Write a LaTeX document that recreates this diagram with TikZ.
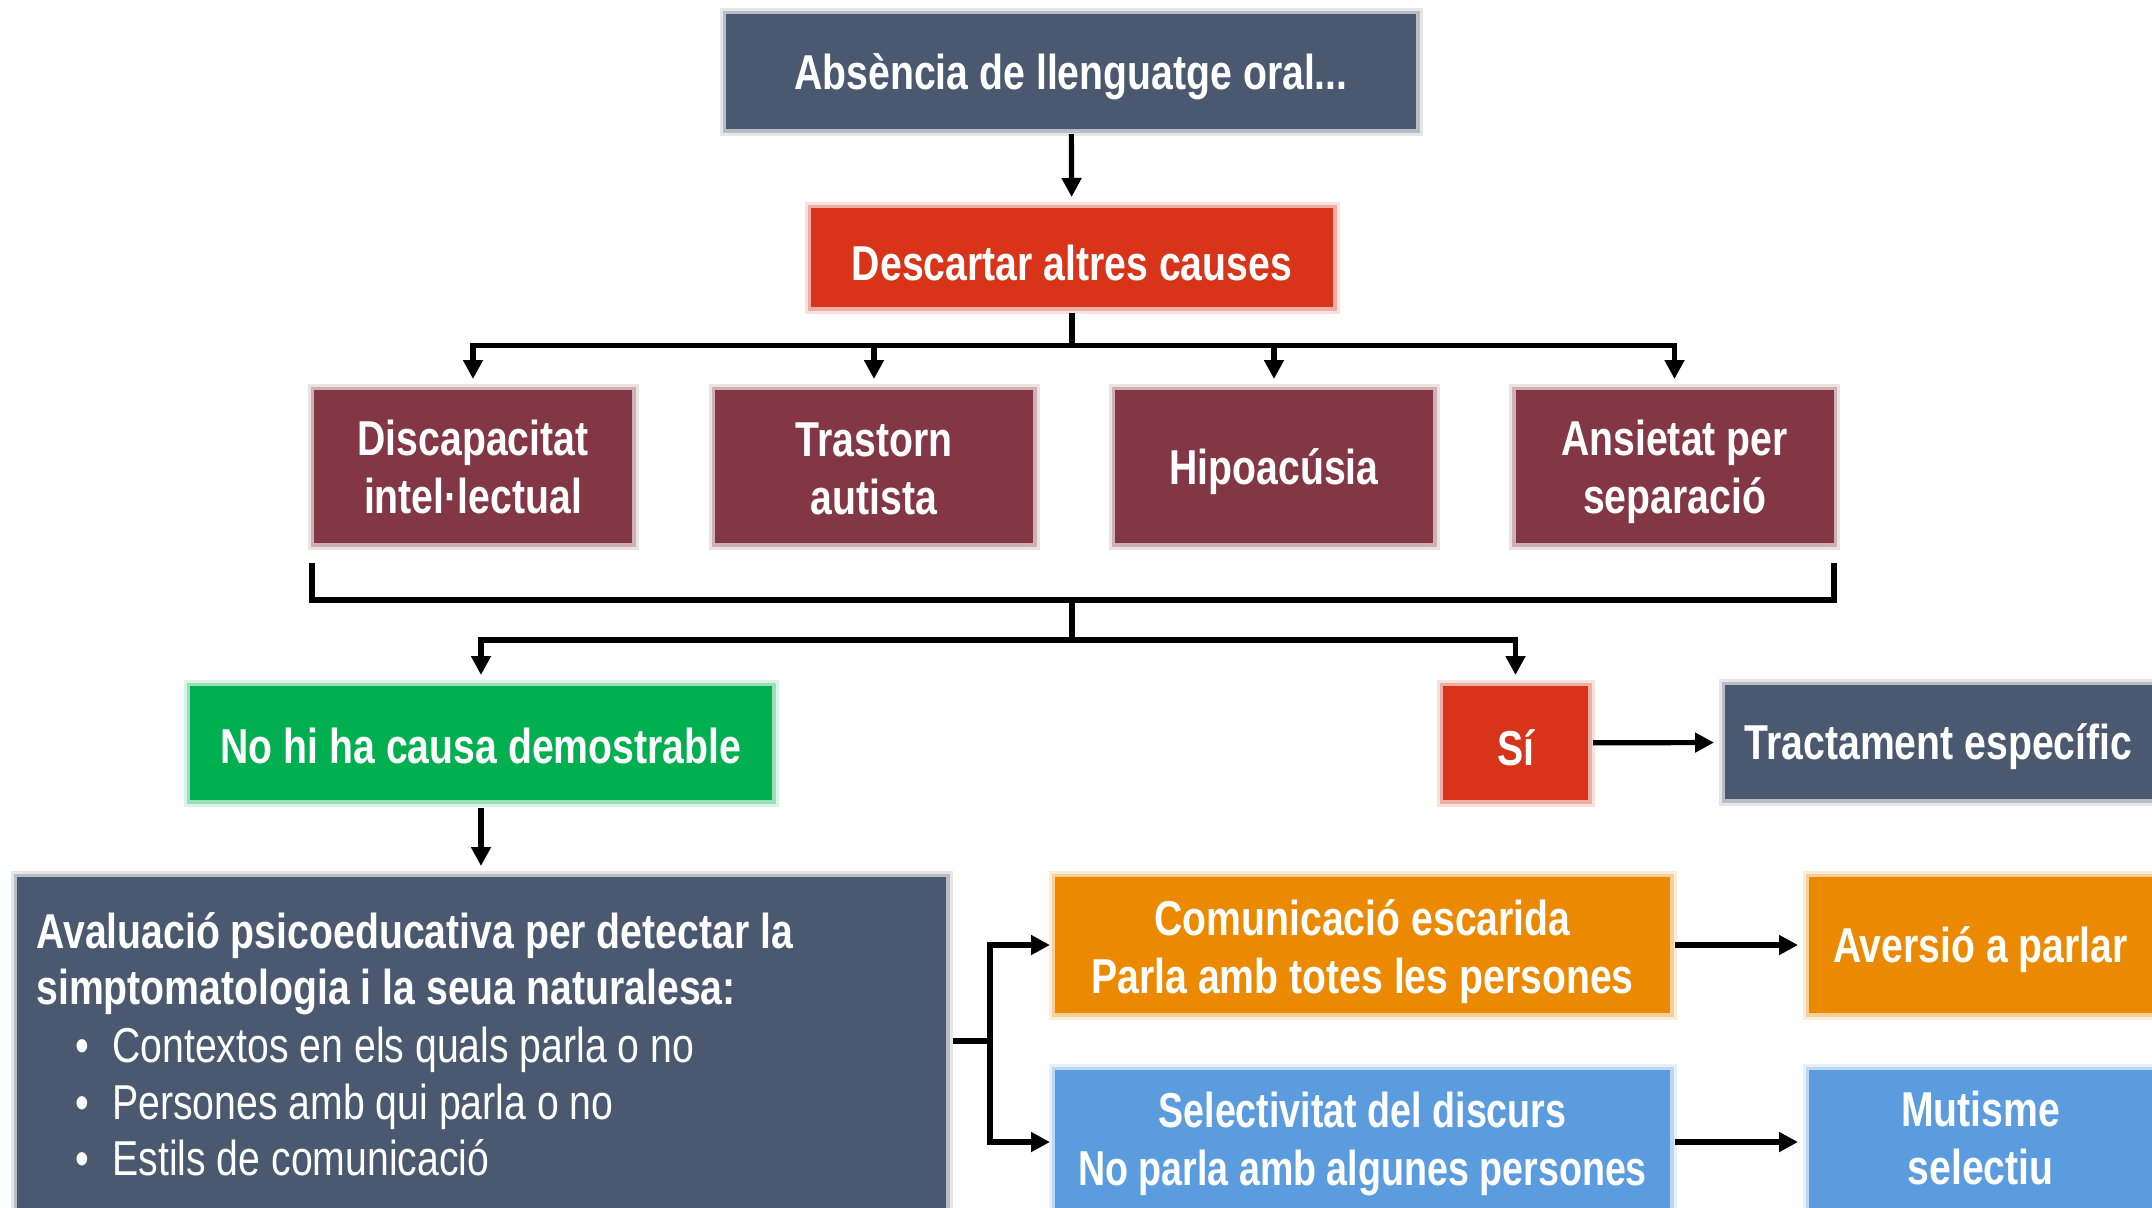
\documentclass[tikz,border=0pt]{standalone}
\usepackage{fontspec}
\setmainfont{Liberation Sans}[FakeStretch=0.8]
\usetikzlibrary{arrows.meta,calc}
\definecolor{slate}{HTML}{4A5870}
\definecolor{redc}{HTML}{D7341A}
\definecolor{maroon}{HTML}{833644}
\definecolor{greenc}{HTML}{00AF50}
\definecolor{orangec}{HTML}{EB8A00}
\definecolor{bluec}{HTML}{5B9CDF}
\tikzset{
  box/.style={fill=#1, preaction={draw=#1!15, line width=6.5pt}, preaction={draw=#1!40, line width=3.5pt},
    inner sep=0pt, outer sep=0pt},
  lab/.style={text=white, font=\bfseries\fontsize{24.5pt}{29pt}\selectfont, align=center, inner sep=0pt, yshift=-2.5pt},
  lab2/.style={lab, yshift=2.5pt},
  conn/.style={line width=2.6pt, draw=black},
  arr/.style={conn, -{Triangle[length=9.5pt,width=9.5pt]}, shorten <=2.5pt, shorten >=5.5pt},
  bigtxt/.style={text=white, anchor=base west, inner sep=0pt, font=\bfseries\fontsize{24.5pt}{29pt}\selectfont},
  bultxt/.style={text=white, anchor=base west, inner sep=0pt, font=\fontsize{24.5pt}{29pt}\selectfont},
}
\begin{document}
\begin{tikzpicture}[x=0.5pt,y=-0.5pt]
\useasboundingbox (0,0) rectangle (2152,1207);
\clip (0,0) rectangle (2152,1207);
\fill[white] (0,0) rectangle (2152,1207);
% nodes
\node[box=slate, minimum width=345pt, minimum height=57.5pt, label={[lab]center:{Absència de llenguatge oral...}}] (top) at (1071,71.5) {};
\node[box=redc, minimum width=261pt, minimum height=49.5pt, label={[lab]center:{Descartar altres causes}}] (desc) at (1072,257.5) {};
\node[box=maroon, minimum width=159pt, minimum height=76.5pt, label={[lab2]center:{Discapacitat\\intel·lectual}}] (b1) at (473,466.5) {};
\node[box=maroon, minimum width=159pt, minimum height=76.5pt, label={[lab, yshift=1.25pt]center:{Trastorn\\autista}}] (b2) at (874,466.5) {};
\node[box=maroon, minimum width=159pt, minimum height=76.5pt, label={[lab]center:{Hipoacúsia}}] (b3) at (1274,466.5) {};
\node[box=maroon, minimum width=159pt, minimum height=76.5pt, label={[lab]center:{Ansietat per\\separació}}] (b4) at (1674.5,466.5) {};
\node[box=greenc, minimum width=291pt, minimum height=57pt, label={[lab, yshift=1pt]center:{No hi ha causa demostrable}}] (green) at (481,743) {};
\node[box=redc, minimum width=72.5pt, minimum height=57pt, label={[lab]center:{Sí}}] (si) at (1515.5,743) {};
\node[box=slate, minimum width=213.5pt, minimum height=57pt, label={[lab]center:{Tractament específic}}] (tract) at (1938.5,742) {};
\node[box=slate, minimum width=464.5pt, minimum height=181.5pt] (big) at (481.5,1058.5) {};
\node[bigtxt] (l1) at (36,948) {Avaluació psicoeducativa per detectar la};
\node[bigtxt] (l2) at (36,1004) {simptomatologia i la seua naturalesa:};
\node[bultxt] (l3) at (75,1062) {\makebox[18.5pt][l]{•}Contextos en els quals parla o no};
\node[bultxt] (l4) at (75,1119) {\makebox[18.5pt][l]{•}Persones amb qui parla o no};
\node[bultxt] (l5) at (75,1175) {\makebox[18.5pt][l]{•}Estils de comunicació};
\node[box=orangec, minimum width=307.5pt, minimum height=68pt, label={[lab, yshift=-1pt]center:{Comunicació escarida\\Parla amb totes les persones}}] (orange) at (1362.5,945) {};
\node[box=orangec, minimum width=171.5pt, minimum height=68pt, label={[lab]center:{Aversió a parlar}}] (avers) at (1980.5,945) {};
\node[box=bluec, minimum width=307.5pt, minimum height=72pt, label={[lab, yshift=1.5pt, xscale=0.96]center:{Selectivitat del discurs\\No parla amb algunes persones}}] (blue) at (1362.5,1142) {};
\node[box=bluec, minimum width=171.5pt, minimum height=72pt, label={[lab2, yshift=2pt]center:{Mutisme\\selectiu}}] (mut) at (1980.5,1142) {};
% coordinates
\coordinate (bus) at (0,345.6);
\coordinate (brL) at (312,563);
\coordinate (brR) at (1834,563);
\coordinate (brB) at (0,600);
\coordinate (bus2) at (0,640);
\coordinate (fork) at (990,1041);
% connectors
\draw[arr] (top) -- (desc);
\foreach \b in {b1,b2,b3,b4}{
  \draw[arr, shorten <=3pt] (desc.south) -- (desc.south |- bus) -| (\b.north);
}
\draw[conn] (brL) -- (brL |- brB) -- (brR |- brB) -- (brR);
\draw[arr, shorten <=0pt] (desc.south |- brB) -- (desc.south |- bus2) -| (green.north);
\draw[arr, shorten <=0pt] (desc.south |- brB) -- (desc.south |- bus2) -| (si.north);
\draw[arr] (si) -- (tract);
\draw[arr, shorten <=4pt] (green) -- (big.north -| green.south);
\draw[conn, shorten <=3.5pt] (big.east |- fork) -- (fork);
\draw[arr, shorten <=0pt, shorten >=2.5pt] (fork) |- (orange.west);
\draw[arr, shorten <=0pt, shorten >=2.5pt] (fork) |- (blue.west);
\draw[arr] (orange) -- (avers);
\draw[arr] (blue) -- (mut);
\end{tikzpicture}
\end{document}
